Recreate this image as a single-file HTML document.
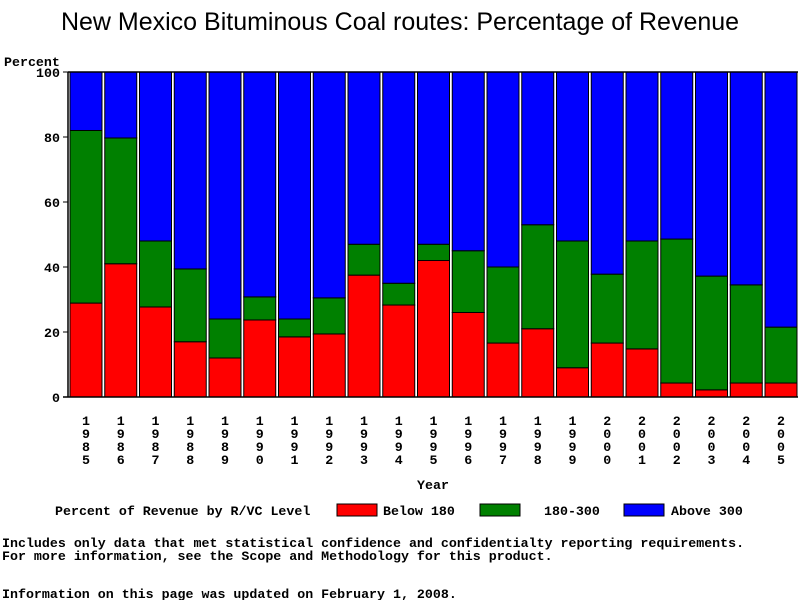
<!DOCTYPE html>
<html><head><meta charset="utf-8"><style>
body{margin:0;background:#fff;}
svg text{font-family:"Liberation Mono",monospace;font-weight:bold;}
</style></head><body>
<svg width="800" height="600" viewBox="0 0 800 600">
<text x="400" y="30" text-anchor="middle" font-size="25" style="font-family:'Liberation Sans',sans-serif;font-weight:normal">New Mexico Bituminous Coal routes: Percentage of Revenue</text>
<text x="4" y="66" font-size="13.3">Percent</text>
<g id="plot"></g>
<text x="433" y="489" text-anchor="middle" font-size="13.3">Year</text>
<g>
<text x="55" y="515" font-size="13.3">Percent of Revenue by R/VC Level</text>
<rect x="337" y="504" width="40" height="12" fill="#ff0000" stroke="#000"/>
<text x="383" y="515" font-size="13.3">Below 180</text>
<rect x="480" y="504" width="40" height="12" fill="#008000" stroke="#000"/>
<text x="544" y="515" font-size="13.3">180-300</text>
<rect x="624" y="504" width="40" height="12" fill="#0000ff" stroke="#000"/>
<text x="671" y="515" font-size="13.3">Above 300</text>
</g>
<text x="2" y="547" font-size="13.3">Includes only data that met statistical confidence and confidentialty reporting requirements.</text>
<text x="2" y="560" font-size="13.3">For more information, see the Scope and Methodology for this product.</text>
<text x="2" y="598" font-size="13.3">Information on this page was updated on February 1, 2008.</text>
</svg>
<script>
const years=["1985","1986","1987","1988","1989","1990","1991","1992","1993","1994","1995","1996","1997","1998","1999","2000","2001","2002","2003","2004","2005"];
const below180=[28.9,41,27.7,17,12,23.7,18.5,19.4,37.5,28.3,42,26,16.6,21,9,16.6,14.8,4.3,2.2,4.3,4.3];
const mid180to300=[53.1,38.7,20.3,22.4,12,7.1,5.5,11.1,9.5,6.7,5,19,23.4,32,39,21.2,33.2,44.3,35,30.2,17.2];
const yTicks=[0,20,40,60,80,100];
const NS="http://www.w3.org/2000/svg";
const plotG=document.getElementById('plot');
const x0=68,pitch=34.75,bw=32,yTop=72,yBot=397;
const yS=v=>yBot-(yBot-yTop)*v/100;
function mk(t,a){const e=document.createElementNS(NS,t);for(const k in a)e.setAttribute(k,a[k]);plotG.appendChild(e);return e;}
years.forEach((yr,i)=>{
 const bx=x0+2+i*pitch;
 const r=below180[i],m=mid180to300[i];
 const segs=[[0,r,'#ff0000','below-180'],[r,r+m,'#008000','180-300'],[r+m,100,'#0000ff','above-300']];
 segs.forEach(s=>{
  const e=mk('rect',{x:bx,y:yS(s[1]),width:bw,height:yS(s[0])-yS(s[1]),fill:s[2],stroke:'#000','stroke-width':1});
  
  
 });
 yr.split('').forEach((c,j)=>{
  const t=mk('text',{x:bx+bw/2,y:425+j*13,'text-anchor':'middle','font-size':13.3});
  t.textContent=c;
  
  
 });
});
const axLine=mk('line',{x1:x0,y1:yTop,x2:x0,y2:yBot,stroke:'#000','stroke-width':1.5});


const topLine=mk('line',{x1:x0,y1:yTop,x2:798,y2:yTop,stroke:'#000','stroke-width':1.5});


const botLine=mk('line',{x1:63,y1:yBot,x2:798,y2:yBot,stroke:'#000','stroke-width':1.5});


yTicks.forEach(v=>{
 const l=mk('line',{x1:63,y1:yS(v),x2:x0,y2:yS(v),stroke:'#000'});
 
 
 const t=mk('text',{x:60,y:yS(v)+5,'text-anchor':'end','font-size':13.3});
 t.textContent=v;
 
 
});
</script>
</body></html>
